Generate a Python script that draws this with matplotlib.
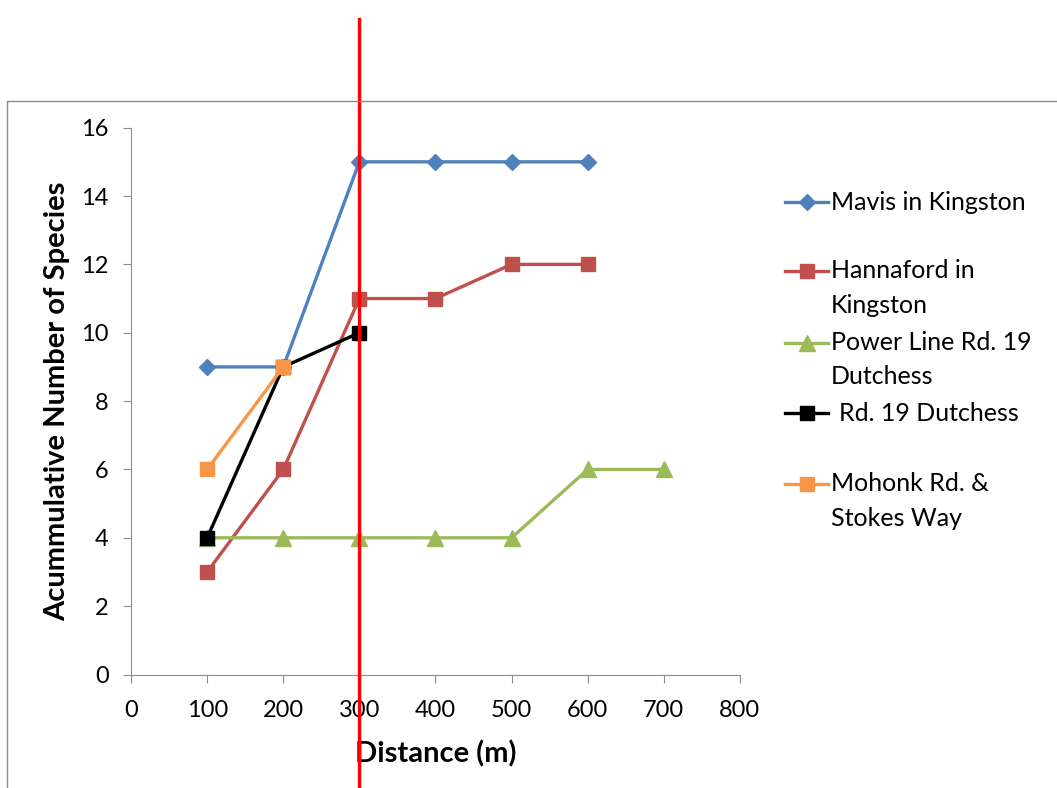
import matplotlib.pyplot as plt
from matplotlib.lines import Line2D
from matplotlib.patches import Rectangle

plt.rcParams['font.family'] = ['Lato', 'DejaVu Sans']

# distances (m) and cumulative species counts per site
dist_mavis = [100, 200, 300, 400, 500, 600]
mavis = [9, 9, 15, 15, 15, 15]

dist_hannaford = [100, 200, 300, 400, 500, 600]
hannaford = [3, 6, 11, 11, 12, 12]

dist_power = [100, 200, 300, 400, 500, 600, 700]
power_line = [4, 4, 4, 4, 4, 6, 6]

dist_rd19 = [100, 200, 300]
rd19 = [4, 9, 10]

dist_mohonk = [100, 200]
mohonk = [6, 9]

labels = ["Mavis in Kingston", "Hannaford in\nKingston", "Power Line Rd. 19\nDutchess",
          " Rd. 19 Dutchess", "Mohonk Rd. &\nStokes Way"]
cutoff = 300

W, H = 1057, 788
fig = plt.figure(figsize=(W / 100, H / 100), dpi=100)
ax = fig.add_axes([0.124, 0.144, 0.576, 0.694])

# outer chart frame (only left/top edges are visible in the crop)
fig.patches.append(Rectangle((0.0066, -0.1), 1.2, 0.972, transform=fig.transFigure,
                             fill=False, edgecolor='#8c8c8c', linewidth=1.0))

lw = 2.4
styles = [
    dict(color='#4F81BD', marker='D', ms=8),
    dict(color='#C0504D', marker='s', ms=10),
    dict(color='#9BBB59', marker='^', ms=11),
    dict(color='black', marker='s', ms=10),
    dict(color='#F79646', marker='s', ms=10),
]
series = [(dist_mavis, mavis), (dist_hannaford, hannaford), (dist_power, power_line),
          (dist_rd19, rd19), (dist_mohonk, mohonk)]
for i, ((xs, ys), st) in enumerate(zip(series, styles)):
    ax.plot(xs, ys, lw=lw, zorder=3 + i, **st)

# red cutoff line running past the plot area
ax.axvline(cutoff, ymin=-0.21, ymax=1.198, color='red', lw=2.4, clip_on=False, zorder=10)

ax.set_xlim(0, 800)
ax.set_ylim(0, 16)
ax.set_xticks(range(0, 801, 100))
ax.set_yticks(range(0, 17, 2))
for side in ['top', 'right']:
    ax.spines[side].set_visible(False)
for side in ['left', 'bottom']:
    ax.spines[side].set_color('#8c8c8c')
ax.tick_params(direction='out', length=6, color='#8c8c8c', labelsize=17)
ax.tick_params(axis='x', pad=12)
ax.tick_params(axis='y', pad=10)
ax.set_xlabel("Distance (m)", fontsize=21, fontweight='bold', labelpad=14)
ax.set_ylabel("Acummulative Number of Species", fontsize=21, fontweight='bold', labelpad=8)

# Excel-style legend: symbol aligned with the first text line
entry_y = [202, 271, 343, 413, 484]
line_step = 34
for lab, st, y in zip(labels, styles, entry_y):
    yf = 1 - y / H
    xoff = 8 if lab.startswith(" ") else 0
    x0, x1 = 785 / W, 828 / W
    fig.add_artist(Line2D([x0, (x0 + x1) / 2, x1], [yf, yf, yf], transform=fig.transFigure,
                          lw=lw, markevery=[1], **st))
    for k, part in enumerate(lab.strip().split("\n")):
        fig.text((831 + xoff) / W, 1 - (y + k * line_step) / H, part, fontsize=18,
                 va='center', ha='left')

fig.savefig("out.png", dpi=100)
